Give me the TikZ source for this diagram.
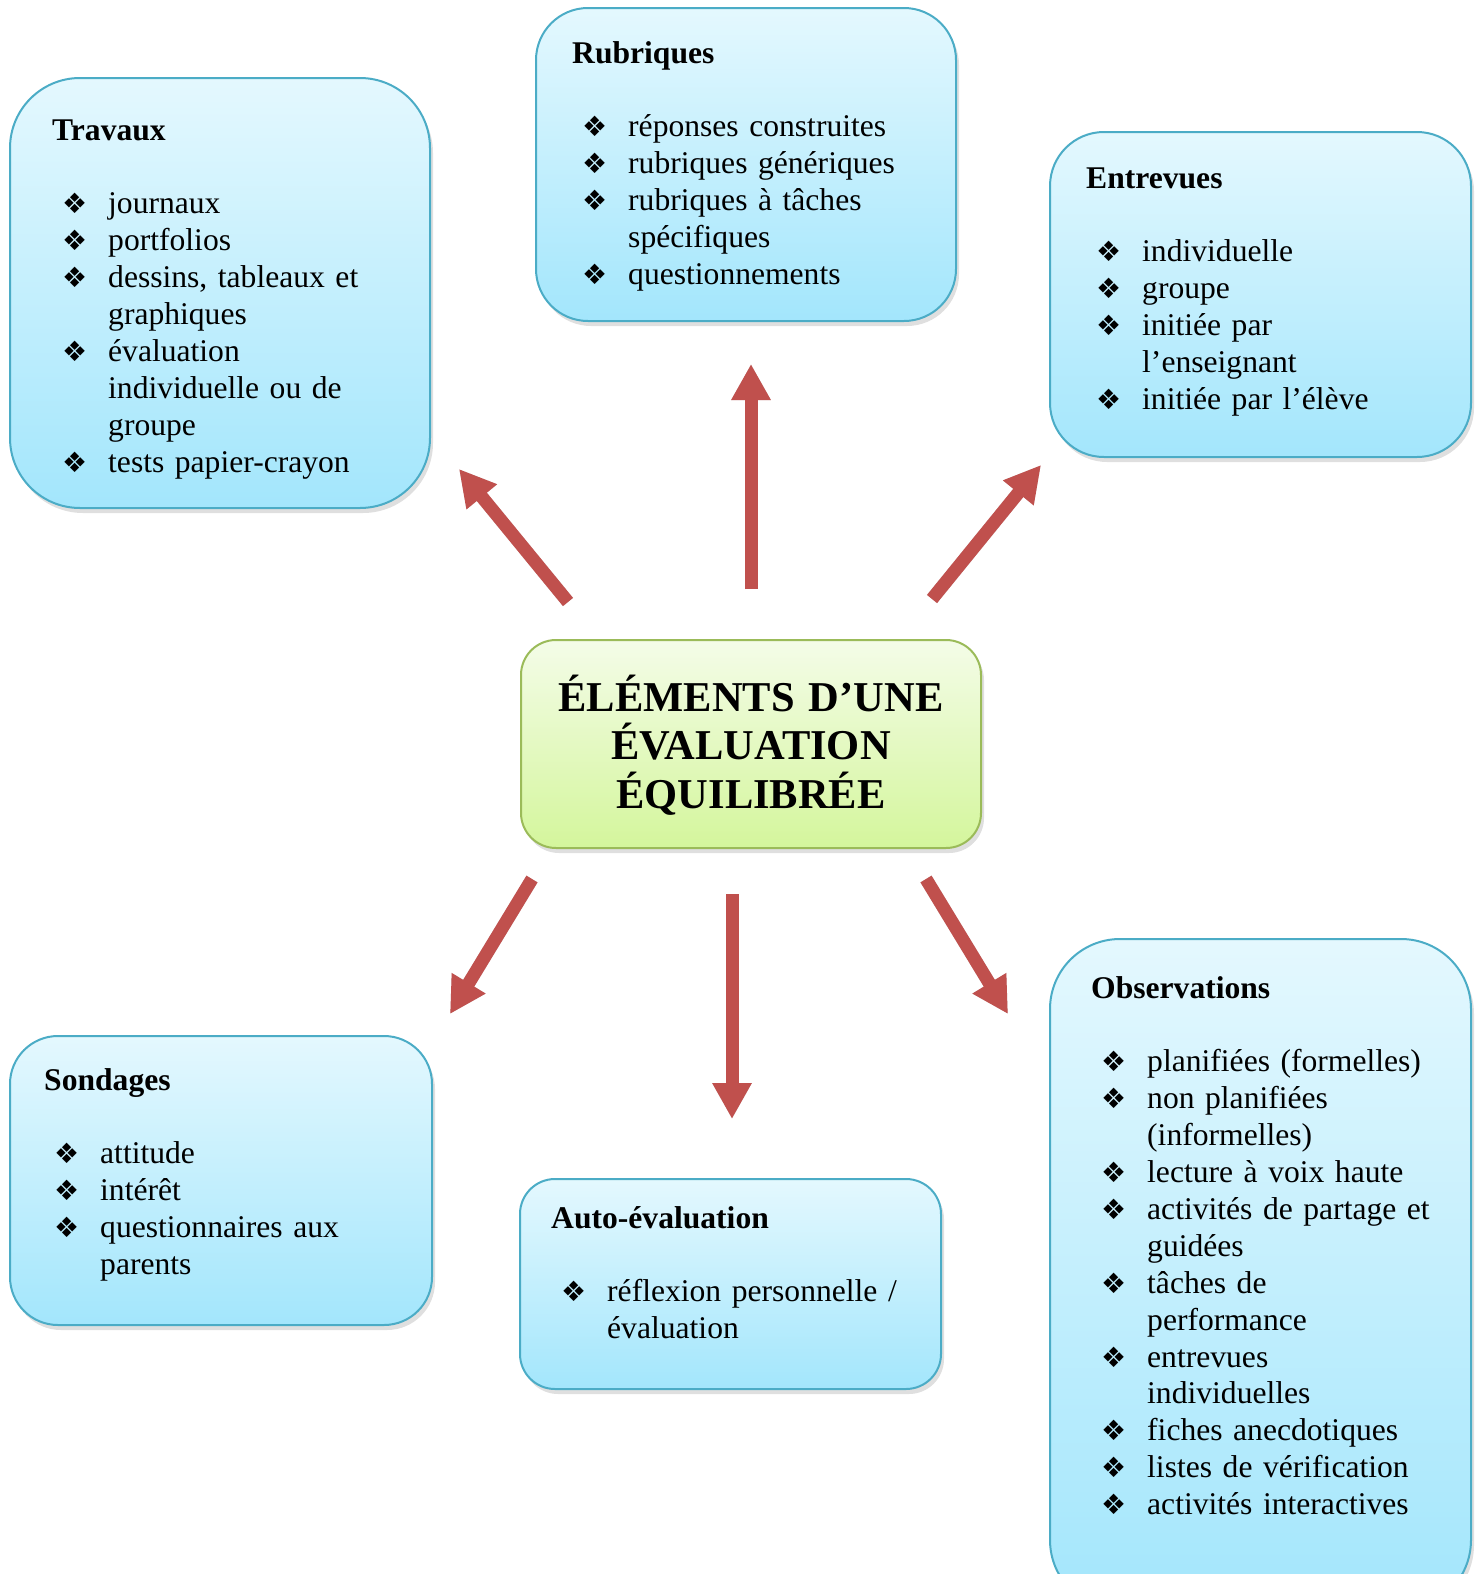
\documentclass[tikz,border=0pt]{standalone}
\usepackage{fontspec}
\setmainfont{Liberation Serif}
\newfontfamily\dejavu{DejaVu Sans}
\usetikzlibrary{arrows.meta,shadows}

\definecolor{boxtop}{RGB}{228,248,254}
\definecolor{boxbot}{RGB}{163,230,252}
\definecolor{boxline}{RGB}{75,172,198}
\definecolor{ctop}{RGB}{244,252,232}
\definecolor{cbot}{RGB}{212,246,156}
\definecolor{cline}{RGB}{155,187,89}
\definecolor{arrowred}{RGB}{192,80,77}

\newcommand{\bul}{\makebox[56pt][l]{\hspace{10pt}{\dejavu\fontsize{28}{28}\selectfont ❖}}}
\newcommand{\itm}[1]{\bul#1}
\newcommand{\cnt}[1]{\hspace*{56pt}#1}

\tikzset{
  boxstyle/.style={draw=boxline, line width=2pt, top color=boxtop, bottom color=boxbot,
    drop shadow={opacity=0.25, shadow xshift=3pt, shadow yshift=-5pt}, inner sep=0pt},
  centerbox/.style={draw=cline, line width=2pt, top color=ctop, bottom color=cbot,
    rounded corners=35pt, drop shadow={opacity=0.25, shadow xshift=3pt, shadow yshift=-5pt}, inner sep=0pt},
  boxtext/.style={anchor=base west, inner sep=0pt, text width=410pt, align=left,
    font=\fontsize{31.6}{36.9}\selectfont},
  arr/.style={draw=arrowred, line width=13pt, -{Triangle[width=37pt,length=36pt]}, arrowred},
  arrsh/.style={draw=black, opacity=0.15, line width=13pt, -{Triangle[width=37pt,length=36pt]}, xshift=2pt, yshift=3pt}
}

\begin{document}
\begin{tikzpicture}[x=1pt,y=-1pt]
\useasboundingbox (0,0) rectangle (1481,1574);

% boxes
\node[boxstyle, minimum width=420pt, minimum height=430pt, rounded corners=70pt] (travaux) at (220,293) {};
\node[boxstyle, minimum width=420pt, minimum height=313pt, rounded corners=52pt] (rubriques) at (746,164.5) {};
\node[boxstyle, minimum width=421pt, minimum height=325pt, rounded corners=54pt] (entrevues) at (1260.5,294.5) {};
\node[boxstyle, minimum width=422pt, minimum height=289pt, rounded corners=48pt] (sondages) at (221,1180.5) {};
\node[boxstyle, minimum width=421pt, minimum height=210pt, rounded corners=35pt] (auto) at (730.5,1284) {};
\node[boxstyle, minimum width=421pt, minimum height=671pt, rounded corners=70pt] (observ) at (1260.5,1274.5) {};
\node[centerbox, minimum width=460pt, minimum height=208pt] (centre) at (751,744) {};

% texts
\node[boxtext] (ttravaux) at (52,140) {{\bfseries Travaux}\\[36.9pt]
\itm{journaux}\\
\itm{portfolios}\\
\itm{dessins, tableaux et}\\
\cnt{graphiques}\\
\itm{évaluation}\\
\cnt{individuelle ou de}\\
\cnt{groupe}\\
\itm{tests papier-crayon}};

\node[boxtext] (trubriques) at (572,63) {{\bfseries Rubriques}\\[36.9pt]
\itm{réponses construites}\\
\itm{rubriques génériques}\\
\itm{rubriques à tâches}\\
\cnt{spécifiques}\\
\itm{questionnements}};

\node[boxtext] (tentrevues) at (1086,188) {{\bfseries Entrevues}\\[36.9pt]
\itm{individuelle}\\
\itm{groupe}\\
\itm{initiée par}\\
\cnt{l’enseignant}\\
\itm{initiée par l’élève}};

\node[boxtext] (tsondages) at (44,1090) {{\bfseries Sondages}\\[36.9pt]
\itm{attitude}\\
\itm{intérêt}\\
\itm{questionnaires aux}\\
\cnt{parents}};

\node[boxtext] (tauto) at (551,1228) {{\bfseries Auto-évaluation}\\[36.9pt]
\itm{réflexion personnelle /}\\
\cnt{évaluation}};

\node[boxtext] (tobserv) at (1091,998) {{\bfseries Observations}\\[36.9pt]
\itm{planifiées (formelles)}\\
\itm{non planifiées}\\
\cnt{(informelles)}\\
\itm{lecture à voix haute}\\
\itm{activités de partage et}\\
\cnt{guidées}\\
\itm{tâches de}\\
\cnt{performance}\\
\itm{entrevues}\\
\cnt{individuelles}\\
\itm{fiches anecdotiques}\\
\itm{listes de vérification}\\
\itm{activités interactives}};

\node[anchor=base, inner sep=0pt, text width=450pt, align=center,
  font=\bfseries\fontsize{42.5}{48.5}\selectfont] (tcentre) at (751,711)
  {ÉLÉMENTS D’UNE\\ ÉVALUATION\\ ÉQUILIBRÉE};

% arrow end points
\coordinate (a1s) at (568,602); \coordinate (a1e) at (459,469);
\coordinate (a2s) at (751,589); \coordinate (a2e) at (751,364);
\coordinate (a3s) at (932,599); \coordinate (a3e) at (1041,465);
\coordinate (a4s) at (532,879); \coordinate (a4e) at (450,1014);
\coordinate (a5s) at (732,894); \coordinate (a5e) at (732,1119);
\coordinate (a6s) at (926,879); \coordinate (a6e) at (1008,1014);

\foreach \i in {1,...,6}{
  \draw[arrsh] (a\i s) -- (a\i e);
  \draw[arr] (a\i s) -- (a\i e);
}
\end{tikzpicture}
\end{document}
